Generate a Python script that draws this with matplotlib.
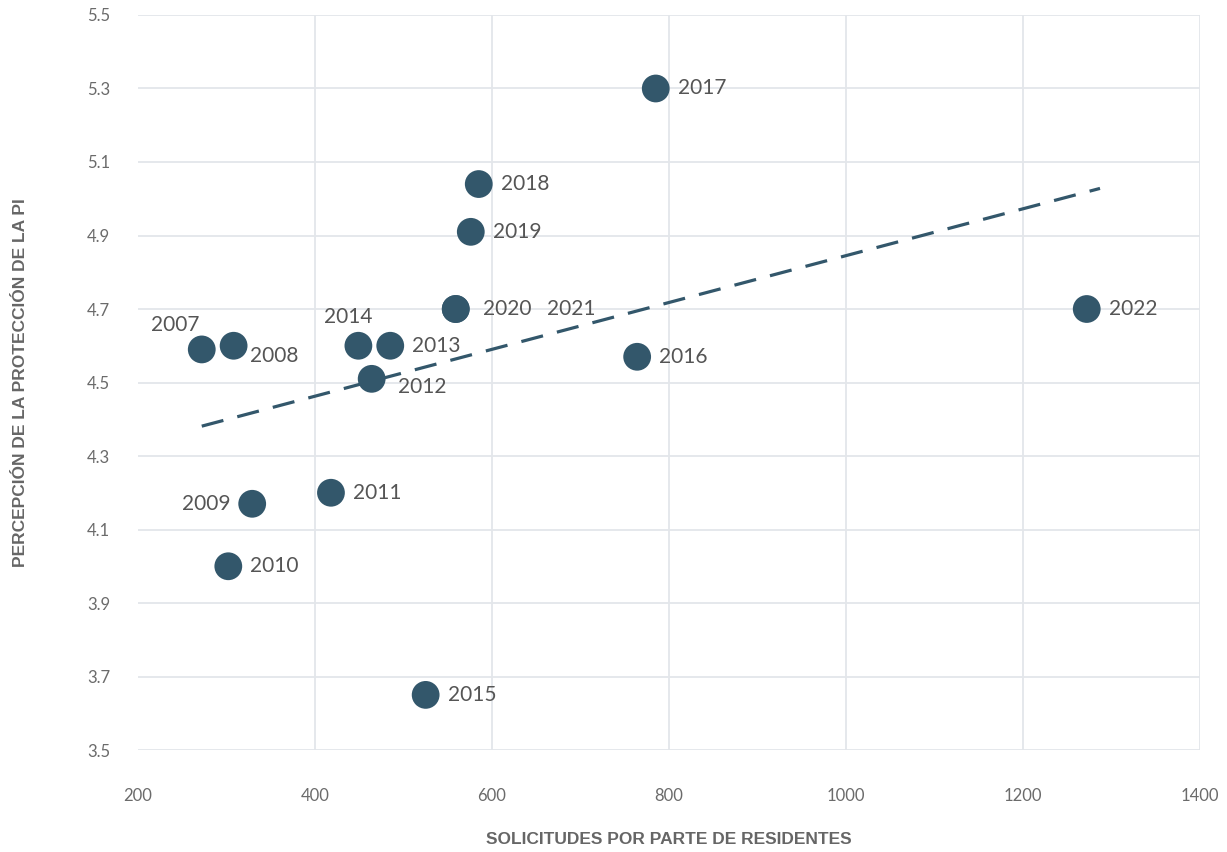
import numpy as np
import matplotlib
matplotlib.use("Agg")
import matplotlib.pyplot as plt

# data
years = ["2007", "2008", "2009", "2010", "2011", "2012", "2013", "2014",
         "2015", "2016", "2017", "2018", "2019", "2020", "2021", "2022"]
solicitudes = [272, 308, 329, 302, 418, 464, 485, 449,
               525, 764, 785, 585, 576, 559, 559, 1272]
percepcion = [4.59, 4.60, 4.17, 4.00, 4.20, 4.51, 4.60, 4.60,
              3.65, 4.57, 5.30, 5.04, 4.91, 4.70, 4.70, 4.70]

x_ticks = [200, 400, 600, 800, 1000, 1200, 1400]
y_ticks = [3.5, 3.7, 3.9, 4.1, 4.3, 4.5, 4.7, 4.9, 5.1, 5.3, 5.5]

# label placement (pixel offsets, alignment)
label_pos = {
    "2007": (-2, 24, "right"),
    "2008": (16, -10, "left"),
    "2009": (-22, 0, "right"),
    "2012": (26, -8, "left"),
    "2014": (-10, 29, "center"),
    "2020": (27, 0, "left"),
    "2021": (91, 0, "left"),
}

col = "#33576b"
grid_col = "#e3e6ea"
tick_col = "#6b6b6b"
label_col = "#555555"
fam = ["Lato", "DejaVu Sans"]

fig = plt.figure(figsize=(12.27, 8.52), dpi=100)
ax = fig.add_axes([0.1125, 0.1197, 0.8655, 0.8627])

x = np.array(solicitudes)
y = np.array(percepcion)

# trend line (least squares)
m, b = np.polyfit(x, y, 1)
xs = np.array([x.min(), x.max() + 15])
ax.plot(xs, m * xs + b, color=col, lw=2.3, dashes=(7, 4.5), zorder=2,
        dash_capstyle="butt")

ax.scatter(x, y, s=400, color=col, edgecolors="none", zorder=3)

for yr, xi, yi in zip(years, solicitudes, percepcion):
    dx, dy, ha = label_pos.get(yr, (22, 0, "left"))
    ax.annotate(yr, (xi, yi), xytext=(dx, dy), textcoords="offset pixels",
                ha=ha, va="center", fontsize=15, color=label_col,
                family=fam, zorder=4)

ax.set_xlim(200, 1400)
ax.set_ylim(3.5, 5.5)
ax.set_xticks(x_ticks)
ax.set_yticks(y_ticks)
ax.set_yticklabels([f"{v:.1f}" for v in y_ticks])
ax.grid(True, color=grid_col, lw=1.3, zorder=0)
ax.set_axisbelow(True)
for s in ax.spines.values():
    s.set_visible(False)
ax.tick_params(length=0, colors=tick_col, labelsize=12)
ax.tick_params(axis="x", pad=27)
ax.tick_params(axis="y", pad=20)
for t in ax.get_xticklabels() + ax.get_yticklabels():
    t.set_family(fam)
# left vertical gridline is not drawn in the original
ax.get_xgridlines()[0].set_visible(False)

ax.set_xlabel("SOLICITUDES POR PARTE DE RESIDENTES", fontsize=12.5,
              fontweight="bold", color="#666666",
              family=["Liberation Sans", "DejaVu Sans"])
ax.set_ylabel("PERCEPCIÓN DE LA PROTECCIÓN DE LA PI", fontsize=12.5,
              fontweight="bold", color="#666666",
              family=["Liberation Sans", "DejaVu Sans"])
ax.xaxis.set_label_coords(0.5, -0.1116)
ax.yaxis.set_label_coords(-0.1036, 0.5)

fig.savefig("out.png", dpi=100)
